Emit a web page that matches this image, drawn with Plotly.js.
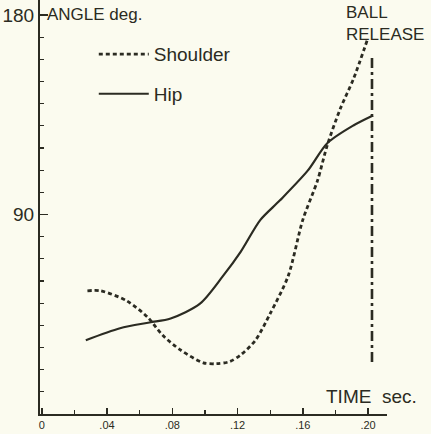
<!DOCTYPE html>
<html>
<head>
<meta charset="utf-8">
<script src="https://cdn.plot.ly/plotly-3.0.1.min.js"></script>
<style>html,body{margin:0;padding:0;background:#fbfbef;}</style>
</head>
<body>
<div id="chart" style="width:431px;height:434px;"></div>
<script>
// Time (sec) and angle (deg) values
const shoulderTime  = [0.028, 0.036, 0.052, 0.065, 0.074, 0.085, 0.099, 0.107, 0.115, 0.122, 0.131, 0.140, 0.151, 0.160, 0.169, 0.175, 0.183, 0.191, 0.200];
const shoulderAngle = [55.6, 55.6, 51.1, 43.6, 35.6, 28.9, 23.1, 22.7, 23.6, 26.7, 33.3, 45.3, 62.2, 87.6, 105.3, 121.3, 137.8, 151.1, 169.8];
const hipTime  = [0.027, 0.048, 0.066, 0.079, 0.097, 0.111, 0.122, 0.134, 0.146, 0.163, 0.175, 0.191, 0.203];
const hipAngle = [33.3, 38.7, 41.3, 43.1, 49.8, 62.2, 73.3, 87.6, 96.4, 109.8, 122.2, 130.2, 134.7];
const releaseTime  = [0.2024, 0.2024];
const releaseAngle = [23.5, 161];
const xTickVals = [0, 0.04, 0.08, 0.12, 0.16, 0.20];
const xTickText = ["0", ".04", ".08", ".12", ".16", ".20"];
const yTickVals = [90, 180];
const yTickText = ["90", "180"];

const ink = '#2b2b22';
const font = 'Liberation Sans, Arial, sans-serif';

const traces = [
  {x: shoulderTime, y: shoulderAngle, name: 'Shoulder', mode: 'lines', legendgroup: 's',
   line: {color: ink, width: 2.8, dash: '4px,3px', shape: 'spline', smoothing: 0.8}},
  {x: hipTime, y: hipAngle, name: 'Hip', mode: 'lines', legendgroup: 'h',
   line: {color: ink, width: 2.2, shape: 'spline', smoothing: 0.8}},
  {x: releaseTime, y: releaseAngle, name: 'release', mode: 'lines', showlegend: false,
   line: {color: ink, width: 2.6, dash: '10px,4px,3px,4px'}}
];

const layout = {
  width: 431, height: 434,
  margin: {l: 40, r: 44, t: 0, b: 20},
  paper_bgcolor: '#fbfbef', plot_bgcolor: '#fbfbef',
  font: {family: font, color: ink},
  showlegend: true,
  legend: {x: 0.155, y: 0.915, xanchor: 'left', yanchor: 'top', bgcolor: 'rgba(0,0,0,0)',
           font: {size: 19, family: font, color: ink}, itemwidth: 50, tracegroupgap: 12,
           traceorder: 'grouped'},
  xaxis: {range: [-0.00107, 0.2116], showgrid: false, zeroline: false, showline: true,
          linecolor: ink, linewidth: 2, ticks: 'inside', ticklen: 6, tickwidth: 1.5, tickcolor: ink,
          tickvals: xTickVals, ticktext: xTickText, tickfont: {size: 11, family: font, color: ink},
          minor: {dtick: 0.02, tick0: 0, ticks: 'inside', ticklen: 4, tickcolor: ink, tickwidth: 1.2}},
  yaxis: {range: [0, 186.8], showgrid: false, zeroline: false, showline: true,
          linecolor: ink, linewidth: 2, ticks: 'inside', ticklen: 8, tickwidth: 1.5, tickcolor: ink,
          tickvals: yTickVals, ticktext: yTickText, tickfont: {size: 19, family: font, color: ink},
          minor: {dtick: 10, tick0: 0, ticks: 'inside', ticklen: 4, tickcolor: ink, tickwidth: 1.2}},
  annotations: [
    {text: 'ANGLE deg.', xref: 'paper', yref: 'paper', x: 0.0144, y: 0.964, xanchor: 'left', yanchor: 'middle',
     showarrow: false, font: {size: 17, family: font, color: ink}},
    {text: 'BALL<br>RELEASE', xref: 'paper', yref: 'paper', x: 0.876, y: 0.943, xanchor: 'left', yanchor: 'middle',
     align: 'left', showarrow: false, font: {size: 17, family: font, color: ink}},
    {text: 'TIME  sec.', xref: 'paper', yref: 'paper', x: 0.818, y: 0.043, xanchor: 'left', yanchor: 'middle',
     showarrow: false, font: {size: 19, family: font, color: ink}}
  ]
};

Plotly.newPlot('chart', traces, layout, {displayModeBar: false, staticPlot: true});
</script>
</body>
</html>
